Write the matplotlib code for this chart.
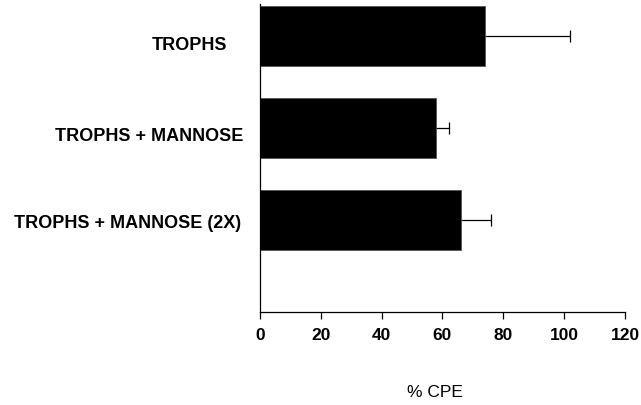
import numpy as np
import matplotlib.pyplot as plt
import matplotlib.transforms as mtransforms

plt.rcParams['font.family'] = ['Liberation Sans', 'DejaVu Sans']

# groups, top to bottom
groups = ['TROPHS', 'TROPHS + MANNOSE', 'TROPHS + MANNOSE (2X)']
cpe = [74, 58, 66]
cpe_err = [28, 4, 10]

x_ticks = [0, 20, 40, 60, 80, 100, 120]

fig = plt.figure(figsize=(6.41, 4.06), dpi=100)
ax = fig.add_axes([0.4056, 0.229, 0.5694, 0.759])

pos = np.arange(len(groups))
# error bars first so the inner caps sit under the bars
ax.errorbar(cpe, pos, xerr=cpe_err, fmt='none', ecolor='black',
            elinewidth=0.9, capsize=4, capthick=0.9, zorder=1)
ax.barh(pos, cpe, height=0.66, color='black', edgecolor='#555555',
        linewidth=0.6, zorder=2)

ax.set_xlim(0, 120)
ax.set_ylim(3.0, -0.35)
ax.set_xticks(x_ticks)
ax.set_xticklabels([str(t) for t in x_ticks], fontsize=12.5, fontweight='bold')
ax.tick_params(axis='x', direction='out', length=5, width=0.9, pad=6)

ax.set_yticks(pos)
ax.set_yticklabels(groups, fontsize=13, fontweight='bold')
ax.tick_params(axis='y', length=0, pad=0)
# ragged label placement on the category axis
shifts = [(-33, 6), (-17, 5), (-19, 0)]
for lbl, (dx, dy) in zip(ax.get_yticklabels(), shifts):
    lbl.set_transform(lbl.get_transform() +
                      mtransforms.ScaledTranslation(dx / 100, -dy / 100, fig.dpi_scale_trans))

ax.set_xlabel('% CPE', fontsize=12.5)
ax.xaxis.set_label_coords(0.479, -0.235)

for side in ('top', 'right'):
    ax.spines[side].set_visible(False)
for side in ('left', 'bottom'):
    ax.spines[side].set_linewidth(0.9)

fig.savefig('out.png', dpi=100)
